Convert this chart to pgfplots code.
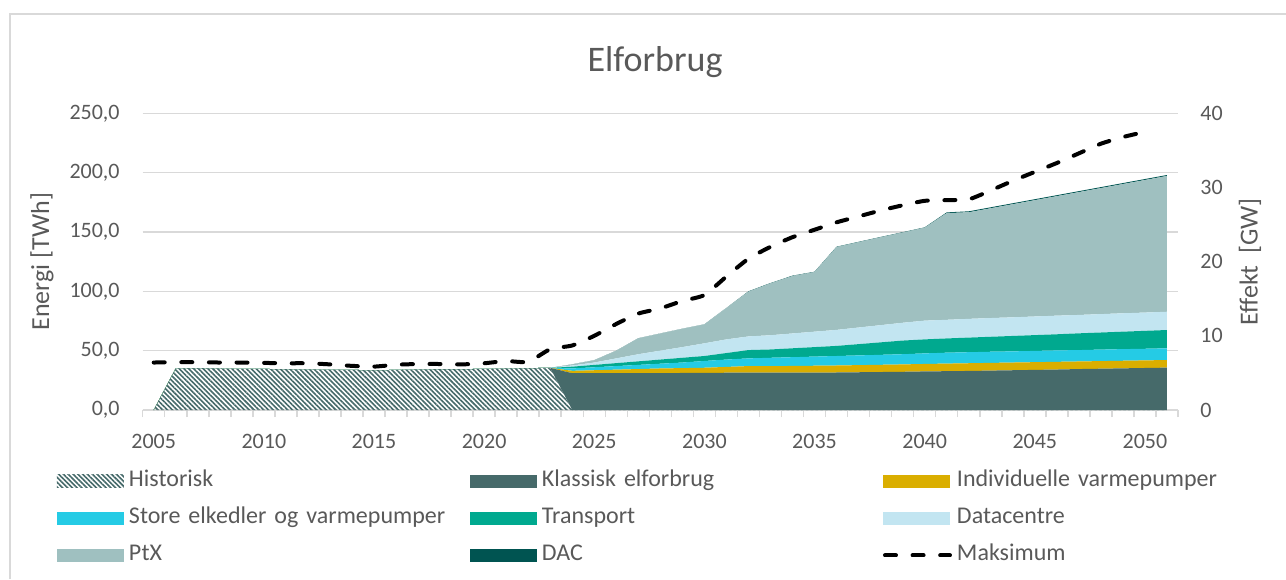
\documentclass[border=0pt]{standalone}
\usepackage{fontspec}
\setmainfont{Carlito}
\usepackage{pgfplots}
\pgfplotsset{compat=1.18}
\usepackage{pgfplotstable}
\usetikzlibrary{patterns.meta}

\definecolor{klassisk}{HTML}{466A6A}
\definecolor{indv}{HTML}{DAAE00}
\definecolor{store}{HTML}{25CBE5}
\definecolor{trans}{HTML}{00A98F}
\definecolor{datac}{HTML}{C2E5F1}
\definecolor{ptx}{HTML}{9FC0C0}
\definecolor{dac}{HTML}{005451}
\definecolor{gridgray}{HTML}{D9D9D9}
\definecolor{txt}{HTML}{595959}

\pgfplotsset{
  swatch/.style={legend image code/.code={\fill[##1] (0pt,-3.25pt) rectangle (33.5pt,3.25pt);}},
  dashimg/.style={legend image code/.code={\draw[##1] (1pt,0pt) -- (33.5pt,0pt);}},
}

\pgfplotstableread{
year hist klas indv store trans data ptx dac
2005 0    0 0 0 0 0 0 0
2006 35.1 0 0 0 0 0 0 0
2007 35.3 0 0 0 0 0 0 0
2008 35.0 0 0 0 0 0 0 0
2009 34.6 0 0 0 0 0 0 0
2010 34.6 0 0 0 0 0 0 0
2011 34.4 0 0 0 0 0 0 0
2012 34.2 0 0 0 0 0 0 0
2013 34.0 0 0 0 0 0 0 0
2014 33.8 0 0 0 0 0 0 0
2015 33.5 0 0 0 0 0 0 0
2016 33.8 0 0 0 0 0 0 0
2017 34.2 0 0 0 0 0 0 0
2018 34.4 0 0 0 0 0 0 0
2019 34.5 0 0 0 0 0 0 0
2020 34.6 0 0 0 0 0 0 0
2021 35.0 0 0 0 0 0 0 0
2022 35.3 0 0 0 0 0 0 0
2023 35.5 0 0 0 0 0 0 0
2024 0 31.0 2.0 2.0 1.5 1.0 1.0 0
2025 0 31.0 2.5 2.5 2.0 2.0 2.0 0
2026 0 31.0 3.0 3.0 2.5 4.0 6.5 0
2027 0 31.0 3.5 3.5 3.0 6.0 13.5 0
2028 0 31.0 4.0 4.0 3.5 7.5 14.5 0
2029 0 31.2 4.1 4.7 4.0 9.0 15.5 0
2030 0 31.3 4.3 5.7 4.2 10.7 16.0 0
2031 0 31.4 4.9 6.2 5.5 11.5 26.5 0
2032 0 31.4 5.6 6.5 7.0 11.5 37.7 0.3
2033 0 31.4 5.6 7.0 7.0 12.0 43.7 0.3
2034 0 31.5 5.6 7.4 7.5 12.5 48.4 0.3
2035 0 31.5 5.8 7.7 8.0 13.0 50.2 0.3
2036 0 31.6 5.9 8.0 8.5 13.5 69.8 0.3
2037 0 31.8 6.0 8.2 9.5 14.0 71.9 0.3
2038 0 32.0 6.1 8.4 10.5 14.5 74.0 0.3
2039 0 32.2 6.2 8.6 11.5 15.0 76.0 0.3
2040 0 32.5 6.3 8.9 11.8 15.8 78.3 0.3
2041 0 32.7 6.4 9.2 12.0 15.7 89.9 0.6
2042 0 32.9 6.5 9.3 12.3 15.8 89.8 0.8
2043 0 33.2 6.5 9.4 12.6 15.8 92.5 0.8
2044 0 33.5 6.5 9.4 13.0 15.7 95.3 0.8
2045 0 33.8 6.5 9.5 13.3 15.7 98.0 0.8
2046 0 34.1 6.5 9.6 13.6 15.7 100.7 0.8
2047 0 34.5 6.4 9.6 14.1 15.5 103.5 0.8
2048 0 34.8 6.4 9.7 14.4 15.5 106.2 0.8
2049 0 35.1 6.4 9.8 14.7 15.5 108.9 0.8
2050 0 35.4 6.4 9.8 15.1 15.4 111.7 0.8
2051 0 35.7 6.4 9.9 15.4 15.4 114.4 0.8
}\elforbrug

\pgfplotstableread{
year max
2005 6.4
2006 6.45
2007 6.45
2008 6.4
2009 6.4
2010 6.35
2011 6.3
2012 6.3
2013 6.15
2014 5.95
2015 5.85
2016 6.1
2017 6.2
2018 6.2
2019 6.15
2020 6.3
2021 6.6
2022 6.5
2023 8.2
2024 8.7
2025 10.0
2026 11.6
2027 13.0
2028 13.7
2029 14.7
2030 15.5
2031 18.0
2032 20.4
2033 22.0
2034 23.3
2035 24.3
2036 25.3
2037 26.1
2038 26.9
2039 27.6
2040 28.2
2041 28.3
2042 28.4
2043 29.6
2044 30.9
2045 32.1
2046 33.3
2047 34.6
2048 35.9
2049 36.8
2050 37.5
}\maksimum

\begin{document}
\begin{tikzpicture}
\useasboundingbox (0,0) rectangle (643pt,289.5pt);
\draw[gridgray, line width=0.75pt] (5pt,0pt) -- (5pt,282.5pt) -- (643pt,282.5pt);
\node[font=\fontsize{18}{21}\selectfont, text=txt, anchor=base] at (327.5pt,253.5pt) {Elforbrug};

\begin{axis}[
  at={(71.35pt,84.5pt)}, anchor=south west,
  scale only axis, width=517.65pt, height=148.35pt,
  xmin=2004.5, xmax=2051.5, ymin=0, ymax=250,
  stack plots=y,
  axis x line*=bottom, axis y line*=left,
  x axis line style={draw=gridgray, line width=0.75pt},
  y axis line style={draw=none},
  xtick={2005,2010,...,2050},
  xticklabels={2005,2010,2015,2020,2025,2030,2035,2040,2045,2050},
  minor xtick={2004.5,2005.5,...,2051.5},
  tick align=outside,
  major tick length=0pt, minor tick length=3.5pt,
  every minor tick/.append style={gridgray, line width=0.75pt},
  ytick={0,50,...,250},
  ymajorgrids, grid style={gridgray, line width=0.75pt},
  /pgf/number format/assume math mode=true,
  tick label style={font=\fontsize{11}{13}\selectfont, text=txt},
  yticklabel style={anchor=east, inner sep=0pt, xshift=-11.35pt,
    /pgf/number format/fixed, /pgf/number format/fixed zerofill,
    /pgf/number format/precision=1, /pgf/number format/use comma},
  xticklabel style={anchor=base, inner sep=0pt, yshift=-19pt},
  ylabel={Energi [TWh]},
  every axis y label/.style={at={(axis description cs:-0.0973,0.5)}, rotate=90, anchor=center, font=\fontsize{13}{15}\selectfont, text=txt},
  legend columns=3,
  legend cell align=left,
  legend style={at={(axis description cs:-0.08278,-0.2022)}, anchor=north west,
    draw=none, fill=none, inner sep=0pt, outer sep=0pt,
    column sep=2.5pt, row sep=7pt,
    font=\fontsize{12}{14}\selectfont, text=txt,
    nodes={inner sep=0pt, text width=160pt, text height=8.5pt, text depth=3pt, align=left},
    /tikz/every even column/.append style={column sep=10.5pt}},
]
\addplot[swatch, draw=none, mark=none, pattern={Lines[angle=-45, distance=1.7pt, line width=0.8pt]}, pattern color=klassisk] table[x=year, y=hist] {\elforbrug} \closedcycle;
\addlegendentry{Historisk}
\addplot[swatch, draw=none, mark=none, fill=klassisk] table[x=year, y=klas] {\elforbrug} \closedcycle;
\addlegendentry{Klassisk elforbrug}
\addplot[swatch, draw=none, mark=none, fill=indv] table[x=year, y=indv] {\elforbrug} \closedcycle;
\addlegendentry{Individuelle varmepumper}
\addplot[swatch, draw=none, mark=none, fill=store] table[x=year, y=store] {\elforbrug} \closedcycle;
\addlegendentry{Store elkedler og varmepumper}
\addplot[swatch, draw=none, mark=none, fill=trans] table[x=year, y=trans] {\elforbrug} \closedcycle;
\addlegendentry{Transport}
\addplot[swatch, draw=none, mark=none, fill=datac] table[x=year, y=data] {\elforbrug} \closedcycle;
\addlegendentry{Datacentre}
\addplot[swatch, draw=none, mark=none, fill=ptx] table[x=year, y=ptx] {\elforbrug} \closedcycle;
\addlegendentry{PtX}
\addplot[swatch, draw=none, mark=none, fill=dac] table[x=year, y=dac] {\elforbrug} \closedcycle;
\addlegendentry{DAC}
\addlegendimage{dashimg, black, line width=2pt, dash pattern=on 5.5pt off 8.3pt, line cap=round}
\addlegendentry{Maksimum}
\end{axis}

\begin{axis}[
  at={(71.35pt,84.5pt)}, anchor=south west,
  scale only axis, width=517.65pt, height=148.35pt,
  xmin=2004.5, xmax=2051.5, ymin=0, ymax=40,
  axis x line=none, axis y line*=right,
  y axis line style={draw=none},
  ytick={0,10,...,40}, major tick length=0pt,
  /pgf/number format/assume math mode=true,
  tick label style={font=\fontsize{11}{13}\selectfont, text=txt},
  yticklabel style={anchor=west, inner sep=0pt, xshift=11pt},
  ylabel={Effekt\ \ [GW]},
  every axis y label/.style={at={(axis description cs:1.0695,0.5)}, rotate=90, anchor=center, font=\fontsize{13}{15}\selectfont, text=txt},
]
\addplot[black, line width=2pt, dash pattern=on 5.5pt off 8.3pt, line cap=round, mark=none, smooth, tension=0.35] table[x=year, y=max] {\maksimum};
\end{axis}
\end{tikzpicture}
\end{document}
